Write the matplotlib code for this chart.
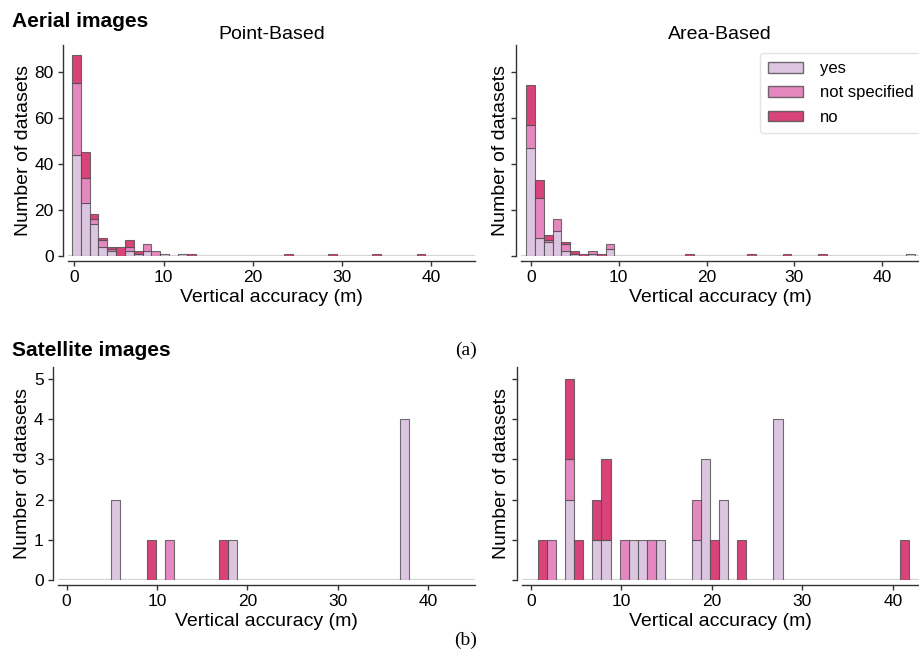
import matplotlib
matplotlib.use("Agg")
from matplotlib import pyplot as plt
from matplotlib.patches import Patch
import numpy as np

plt.rcParams["font.family"] = ["Liberation Sans", "DejaVu Sans"]

categories = ["yes", "not specified", "no"]
colors = ["#dcc5e0", "#e688c0", "#d8437a"]

# aerial images, point-based (bin index of the 1 m bins)
ap_bins = [0, 1, 2, 3, 4, 5, 6, 7, 8, 9, 10, 12, 13, 24, 29, 34, 39]
ap_yes = [44, 23, 14, 4, 2, 0, 2, 1, 2, 0, 1, 1, 0, 0, 0, 0, 0]
ap_ns = [31, 11, 2, 3, 1, 0, 2, 0, 3, 2, 0, 0, 0, 0, 0, 0, 0]
ap_no = [12, 11, 2, 1, 1, 4, 3, 1, 0, 0, 0, 0, 1, 1, 1, 1, 1]

# aerial images, area-based
aa_bins = [0, 1, 2, 3, 4, 5, 6, 7, 8, 9, 18, 25, 29, 33, 43]
aa_yes = [47, 8, 6, 11, 2, 1, 0, 1, 0, 3, 0, 0, 0, 0, 1]
aa_ns = [10, 17, 1, 5, 3, 0, 0, 1, 0, 2, 0, 0, 0, 0, 0]
aa_no = [17, 8, 2, 0, 1, 1, 1, 0, 1, 0, 1, 1, 1, 1, 0]

# satellite images, point-based
sp_bins = [5, 9, 11, 17, 18, 37]
sp_yes = [2, 0, 0, 0, 1, 4]
sp_ns = [0, 0, 1, 0, 0, 0]
sp_no = [0, 1, 0, 1, 0, 0]

# satellite images, area-based
sa_bins = [0, 1, 3, 4, 6, 7, 9, 10, 11, 12, 13, 17, 18, 19, 20, 22, 26, 40]
sa_yes = [0, 0, 2, 0, 1, 1, 0, 1, 1, 0, 1, 1, 3, 0, 2, 0, 4, 0]
sa_ns = [0, 1, 1, 0, 0, 0, 1, 0, 0, 1, 0, 1, 0, 0, 0, 0, 0, 0]
sa_no = [1, 0, 2, 1, 1, 2, 0, 0, 0, 0, 0, 0, 0, 1, 0, 1, 0, 1]

W, H = 919, 660
fig = plt.figure(figsize=(W / 100, H / 100), dpi=100)
edge = (0.3, 0.3, 0.3, 0.8)


def make_axes(left, right, top, bottom):
    return fig.add_axes([left / W, 1 - bottom / H, (right - left) / W, (bottom - top) / H])


def draw(ax, bins, counts, start, width, labelpad=2):
    left = start + np.asarray(bins) * width
    base = np.zeros(len(bins))
    ax.axhline(0, color="#d4d4d4", lw=1.6, zorder=0)
    for vals, color in zip(counts, colors):
        vals = np.asarray(vals, dtype=float)
        m = vals > 0
        ax.bar(left[m], vals[m], width=width, bottom=base[m], align="edge",
               color=color, edgecolor=edge, linewidth=0.8, zorder=2)
        base += vals
    for side in ["top", "right"]:
        ax.spines[side].set_visible(False)
    for side in ["left", "bottom"]:
        ax.spines[side].set_position(("outward", 3.8))
        ax.spines[side].set_color("#333333")
        ax.spines[side].set_linewidth(1.0)
    ax.tick_params(length=3.5, width=1, color="#333333", labelsize=12.5, pad=3)
    ax.set_xlabel("Vertical accuracy (m)", fontsize=14, labelpad=3)
    ax.set_ylabel("Number of datasets", fontsize=14, labelpad=labelpad)


ax1 = make_axes(68, 475, 45, 256)
draw(ax1, ap_bins, [ap_yes, ap_ns, ap_no], -0.26, 0.99)
ax1.set_xlim(-0.7, 44.9)
ax1.set_ylim(0, 91.5)
ax1.set_xticks([0, 10, 20, 30, 40])
ax1.set_yticks([0, 20, 40, 60, 80])
ax1.set_title("Point-Based", fontsize=14, pad=4)

ax2 = make_axes(521, 919, 45, 256)
draw(ax2, aa_bins, [aa_yes, aa_ns, aa_no], -0.57, 1.008, labelpad=-2)
ax2.set_xlim(-1.14, 44.2)
ax2.set_ylim(0, 91.5)
ax2.set_xticks([0, 10, 20, 30, 40])
ax2.set_yticks([0, 20, 40, 60, 80])
ax2.set_yticklabels([])
ax2.set_title("Area-Based", fontsize=14, pad=4)

ax3 = make_axes(58, 475, 367, 580)
draw(ax3, sp_bins, [sp_yes, sp_ns, sp_no], -0.1, 1.0)
ax3.set_xlim(-0.96, 45.2)
ax3.set_ylim(0, 5.3)
ax3.set_xticks([0, 10, 20, 30, 40])
ax3.set_yticks([0, 1, 2, 3, 4, 5])

ax4 = make_axes(522, 919, 367, 580)
draw(ax4, sa_bins, [sa_yes, sa_ns, sa_no], 0.82, 1.0, labelpad=-2)
ax4.set_xlim(-0.96, 42.9)
ax4.set_ylim(0, 5.3)
ax4.set_xticks([0, 10, 20, 30, 40])
ax4.set_yticks([0, 1, 2, 3, 4, 5])
ax4.set_yticklabels([])

handles = [Patch(facecolor=c, edgecolor=edge, linewidth=1.0) for c in colors]
fig.legend(handles, categories, loc="upper left", bbox_to_anchor=(760 / W, 1 - 53 / H),
           fontsize=12, frameon=True, edgecolor="#dddddd", fancybox=True,
           handlelength=2.1, handleheight=0.6, labelspacing=0.55, borderpad=0.5,
           handletextpad=1.0, borderaxespad=0)

fig.text(12 / W, 1 - 12 / H, "Aerial images", fontsize=15, fontweight="bold", va="top")
fig.text(12 / W, 1 - 341 / H, "Satellite images", fontsize=15, fontweight="bold", va="top")
fig.text(466 / W, 1 - 350 / H, "(a)", fontsize=14, family="Liberation Serif", ha="center", va="center")
fig.text(466 / W, 1 - 640 / H, "(b)", fontsize=14, family="Liberation Serif", ha="center", va="center")

fig.savefig("out.png", dpi=100)
